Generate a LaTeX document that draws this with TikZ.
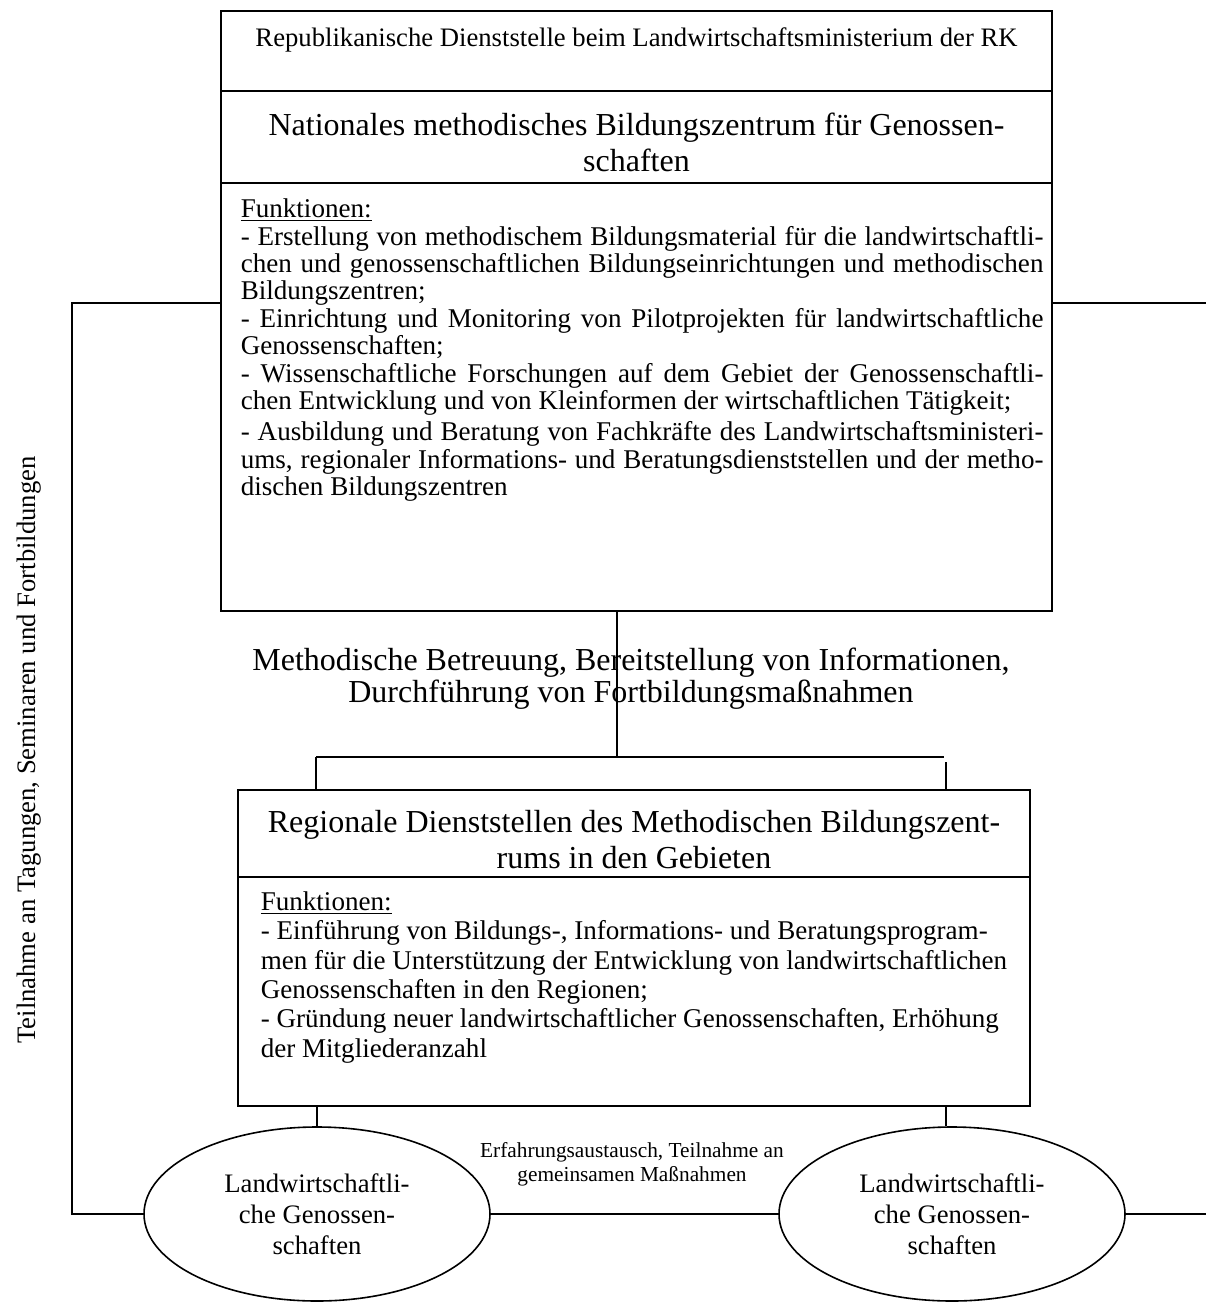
\documentclass[tikz,border=0pt]{standalone}
\usepackage{fontspec}
\setmainfont{Liberation Serif}
\usetikzlibrary{shapes.geometric}
\begin{document}
\begin{tikzpicture}[x=0.75pt,y=-0.75pt,line width=1.2pt,
  box/.style={draw,rectangle,inner sep=0pt},
  oval/.style={draw,ellipse,inner sep=0pt,minimum width=259.5pt,minimum height=130.5pt,align=center,font=\fontsize{20}{23.25}\selectfont},
  headtxt/.style={align=center,inner sep=0pt,font=\fontsize{24}{27}\selectfont},
  bodytxt/.style={anchor=north west,inner sep=0pt}]
\useasboundingbox (0,0) rectangle (1206,1302);
% top boxes
\node[box,minimum width=623.25pt,minimum height=60pt] (topA) at (636.5,51) {};
\node[box,minimum width=623.25pt,minimum height=69pt] (topB) at (636.5,137) {};
\node[box,minimum width=623.25pt,minimum height=321pt] (topC) at (636.5,397) {};
% regional boxes
\node[box,minimum width=594pt,minimum height=65.25pt] (regH) at (634,833.5) {};
\node[box,minimum width=594pt,minimum height=171.75pt] (regF) at (634,991.5) {};
% ellipses
\node[oval] (ell1) at (317,1214) {Landwirtschaftli-\\che Genossen-\\schaften};
\node[oval] (ell2) at (952,1214) {Landwirtschaftli-\\che Genossen-\\schaften};
% texts
\node[inner sep=0pt,font=\fontsize{20}{24}\selectfont] (tRep) at (636.5,40) {Republikanische Dienststelle beim Landwirtschaftsministerium der RK};
\node[headtxt] (tNat) at (636.5,142) {Nationales methodisches Bildungszentrum für Genossen-\\schaften};
\node[bodytxt] (tFun) at (240,198) {\parbox[t]{602pt}{\fontsize{20.3}{20.6}\selectfont\setlength{\parindent}{0pt}\setlength{\parskip}{0pt}\hyphenpenalty=10000
\underline{Funktionen:}\par
- Erstellung von methodischem Bildungsmaterial für die landwirtschaftli-\linebreak chen und genossenschaftlichen Bildungseinrichtungen und methodischen \linebreak Bildungszentren;\par
- Einrichtung und Monitoring von Pilotprojekten für landwirtschaftliche \linebreak Genossenschaften;\par
- Wissenschaftliche Forschungen auf dem Gebiet der Genossenschaftli-\linebreak chen Entwicklung und von Kleinformen der wirtschaftlichen Tätigkeit;\par\vspace{2.5pt}
- Ausbildung und Beratung von Fachkräfte des Landwirtschaftsministeri-\linebreak ums, regionaler Informations- und Beratungsdienststellen und der metho-\linebreak dischen Bildungszentren\par}};
\node[headtxt,font=\fontsize{24}{24}\selectfont] (tMeth) at (631,679) {Methodische Betreuung, Bereitstellung von Informationen,\\Durchführung von Fortbildungsmaßnahmen};
\node[headtxt] (tRegH) at (634,840) {Regionale Dienststellen des Methodischen Bildungszent-\\rums in den Gebieten};
\node[bodytxt] (tRegF) at (260,891) {\parbox[t]{590pt}{\fontsize{20.3}{22}\selectfont\setlength{\parindent}{0pt}\raggedright
\underline{Funktionen:}\\
- Einführung von Bildungs-, Informations- und Beratungsprogram-\\
men für die Unterstützung der Entwicklung von landwirtschaftlichen\\
Genossenschaften in den Regionen;\\
- Gründung neuer landwirtschaftlicher Genossenschaften, Erhöhung\\
der Mitgliederanzahl}};
\node[align=center,inner sep=0pt,font=\fontsize{16}{18}\selectfont] (tErf) at (632,1164) {Erfahrungsaustausch, Teilnahme an\\gemeinsamen Maßnahmen};
\node[rotate=90,inner sep=0pt,font=\fontsize{20}{24}\selectfont] (tTeil) at (29,750) {Teilnahme an Tagungen, Seminaren und Fortbildungen};
% connectors
\coordinate (LT) at (72,303);
\coordinate (RT) at (1206,303);
\coordinate (RB) at (1206,1214);
\coordinate (MJ) at (617,757);
\coordinate (BL) at (316,757);
\coordinate (BR) at (944,757);
\coordinate (BR2) at (946,762);
\coordinate (D2) at (946,1200);
\draw (topC.west |- LT) -- (LT) -- (LT |- ell1.west) -- (ell1.west);
\draw (topC.east |- RT) -- (RT);
\draw (ell2.east) -- (RB);
\draw (ell1.east) -- (ell2.west);
\draw (MJ |- topC.south) -- (MJ);
\draw (BL) -- (BR);
\draw (BL) -- (BL |- regH.north);
\draw (BR2) -- (BR2 |- regH.north);
\draw (ell1.north |- regF.south) -- (ell1.north);
\draw (D2 |- regF.south) -- (D2 |- ell2.north);
\end{tikzpicture}
\end{document}
